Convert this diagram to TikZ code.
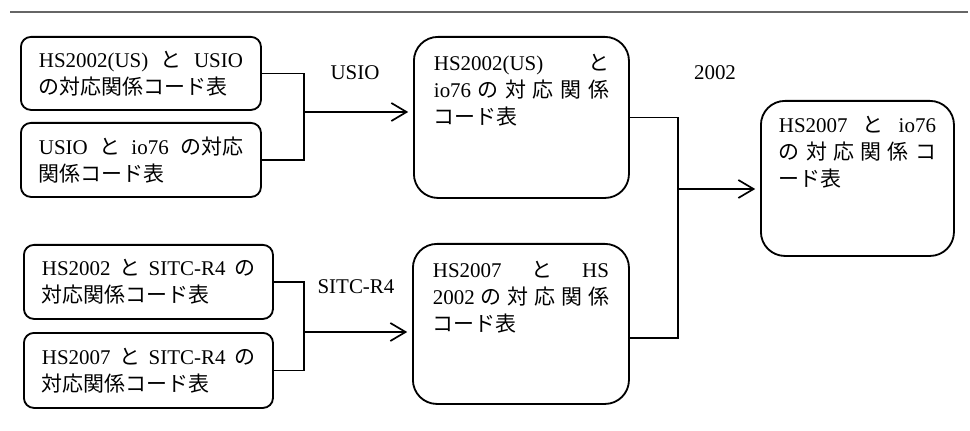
\documentclass[tikz,border=0pt]{standalone}
\usepackage{fontspec}
\setmainfont{Liberation Serif}
\newfontfamily\jp{Noto Sans CJK JP}
\usetikzlibrary{arrows.meta}

\begin{document}
\begin{tikzpicture}[x=0.025cm, y=-0.025cm,
    font=\fontsize{14.9}{18.9}\selectfont,
    codebox/.style={draw, line width=1.3pt, rounded corners=0.25cm,
        anchor=north west, align=left, inner xsep=0.45cm, inner ysep=0pt},
    bigbox/.style={codebox, rounded corners=0.6cm},
    link/.style={line width=1.2pt},
    arr/.style={link, -{Straight Barb[length=0.38cm, width=0.45cm]},
        shorten >=0.12cm}]
    \useasboundingbox (0,0) rectangle (970,431);
    \draw[black!60, line width=0.8pt] (10,12) -- (968,12);

    % left column
    \node[codebox, text width=5.1cm, minimum height=1.825cm] (hsus) at (20,36)
        {HS2002(US)\hfill{\jp と}\hfill USIO\\{\jp の対応関係コード表}};
    \node[codebox, text width=5.1cm, minimum height=1.85cm] (usio) at (20,122)
        {USIO\hfill{\jp と}\hfill io76\hfill{\jp の対応}\\{\jp 関係コード表}};
    \node[codebox, text width=5.325cm, minimum height=1.85cm] (hssitc) at (23,244)
        {HS2002\hfill{\jp と}\hfill SITC-R4\hfill{\jp の}\\{\jp 対応関係コード表}};
    \node[codebox, text width=5.325cm, minimum height=1.875cm] (hsnsitc) at (23,332)
        {HS2007\hfill{\jp と}\hfill SITC-R4\hfill{\jp の}\\{\jp 対応関係コード表}};

    % middle column
    \node[bigbox, inner xsep=0.5cm, text width=4.375cm, text height=0.85cm,
        text depth=3.175cm] (hsusio) at (413,36)
        {HS2002(US)\hfill{\jp と}\\io76\hfill{\jp の\hfill 対\hfill 応\hfill 関\hfill 係}\\{\jp コード表}};
    \node[bigbox, inner xsep=0.5cm, text width=4.4cm, text height=0.85cm,
        text depth=3.15cm] (hsold) at (412,243)
        {HS2007\hfill{\jp と}\hfill HS\\2002\hfill{\jp の\hfill 対\hfill 応\hfill 関\hfill 係}\\{\jp コード表}};

    % right
    \node[bigbox, text width=3.925cm, text height=0.8cm,
        text depth=3.075cm] (hsio) at (760,100)
        {HS2007\hfill{\jp と}\hfill io76\\{\jp の\hfill 対\hfill 応\hfill 関\hfill 係\hfill コ}\\{\jp ード表}};

    \node (lusio) at (355,73) {USIO};
    \node (lsitc) at (356,287) {SITC-R4};
    \node (lhs) at (715,73) {2002};

    \coordinate (jusio) at (304,112);
    \coordinate (jsitc) at (304,332);
    \coordinate (jhs) at (678,189);

    \draw[link] (hsus.east) -| (jusio) |- (usio.east);
    \draw[arr] (jusio) -- (jusio -| hsusio.west);
    \draw[link] (hssitc.east) -| (jsitc) |- (hsnsitc.east);
    \draw[arr] (jsitc) -- (jsitc -| hsold.west);
    \draw[link] (hsusio.east) -| (jhs) |- ([yshift=-0.35cm]hsold.east);
    \draw[arr] (jhs) -- (jhs -| hsio.west);
\end{tikzpicture}
\end{document}
